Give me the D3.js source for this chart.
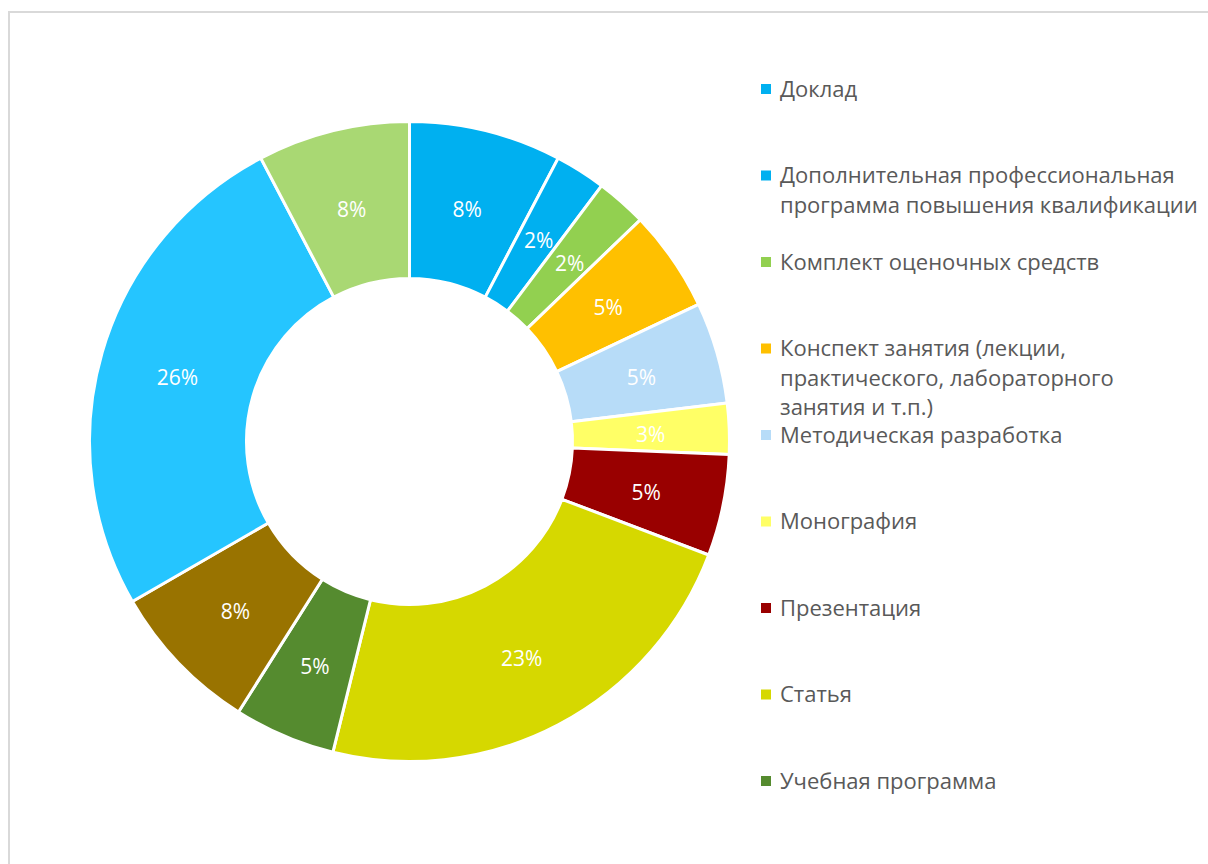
<!DOCTYPE html>
<html>
<head>
<meta charset="utf-8">
<script src="https://cdn.jsdelivr.net/npm/d3@7"></script>
<style>
  body { margin: 0; background: #fff; }
  svg { display: block; font-family: "Segoe UI", "Open Sans", sans-serif; }
</style>
</head>
<body>
<script>
// categories (the last three are cut off from the legend in the original)
var names = [
  'Доклад',
  'Дополнительная профессиональная\nпрограмма повышения квалификации',
  'Комплект оценочных средств',
  'Конспект занятия (лекции,\nпрактического, лабораторного\nзанятия и т.п.)',
  'Методическая разработка',
  'Монография',
  'Презентация',
  'Статья',
  'Учебная программа',
  'Учебно-методическое пособие',
  'Учебное пособие',
  'Электронный курс'
];
// counts per category
var counts = [3, 1, 1, 2, 2, 1, 2, 9, 2, 3, 10, 3];
var colors = ['#00b0f0', '#00b0f0', '#92d050', '#ffc000', '#b7dcf8', '#ffff66',
  '#990000', '#d6d800', '#558b2f', '#997300', '#25c5ff', '#a9d873'];
var legendShown = 9;

var width = 1208, height = 864;
var cx = 409.5, cy = 441.5, outerR = 320, innerR = 163;

var svg = d3.select('body').append('svg')
  .attr('width', width)
  .attr('height', height);

// chart area frame
svg.append('rect')
  .attr('x', 9).attr('y', 12)
  .attr('width', 1240).attr('height', 900)
  .attr('fill', '#fff')
  .attr('stroke', '#d9d9d9')
  .attr('stroke-width', 2);

// percentages rounded so they add up to 100 (largest remainder)
var total = d3.sum(counts);
var raw = counts.map(function(c) { return c / total * 100; });
var pct = raw.map(Math.floor);
var left = 100 - d3.sum(pct);
var order = d3.range(counts.length).sort(function(a, b) {
  var da = raw[b] - Math.floor(raw[b]), db = raw[a] - Math.floor(raw[a]);
  return da - db || b - a;
});
for (var i = 0; i < left; i++) pct[order[i]] += 1;

var pie = d3.pie().sort(null).value(function(d) { return d; });
var arcs = pie(counts);

var arc = d3.arc().innerRadius(innerR).outerRadius(outerR);
var labelArc = d3.arc().innerRadius((innerR + outerR) / 2).outerRadius((innerR + outerR) / 2);

var g = svg.append('g').attr('transform', 'translate(' + cx + ',' + cy + ')');

g.selectAll('path')
  .data(arcs)
  .enter().append('path')
  .attr('d', arc)
  .attr('fill', function(d, i) { return colors[i]; })
  .attr('stroke', '#fff')
  .attr('stroke-width', 3)
  .attr('stroke-linejoin', 'round');

g.selectAll('text.lbl')
  .data(arcs)
  .enter().append('text')
  .attr('class', 'lbl')
  .attr('transform', function(d) { return 'translate(' + labelArc.centroid(d) + ')'; })
  .attr('text-anchor', 'middle')
  .attr('y', 3)
  .attr('dy', '0.35em')
  .attr('fill', '#fff')
  .attr('font-size', 21)
  .text(function(d, i) { return pct[i] + '%'; });

// legend
var legend = svg.append('g').attr('transform', 'translate(761,89)');
var item = legend.selectAll('g')
  .data(names.slice(0, legendShown))
  .enter().append('g')
  .attr('transform', function(d, i) { return 'translate(0,' + (i * 86.5) + ')'; });

item.append('rect')
  .attr('x', 0).attr('y', -5)
  .attr('width', 10).attr('height', 10)
  .attr('fill', function(d, i) { return colors[i]; });

item.append('text')
  .attr('fill', '#595959')
  .attr('font-size', 22)
  .each(function(d) {
    var t = d3.select(this);
    d.split('\n').forEach(function(line, k) {
      t.append('tspan')
        .attr('x', 19)
        .attr('y', k * 29.5)
        .attr('dy', '0.35em')
        .text(line);
    });
  });
</script>
</body>
</html>
